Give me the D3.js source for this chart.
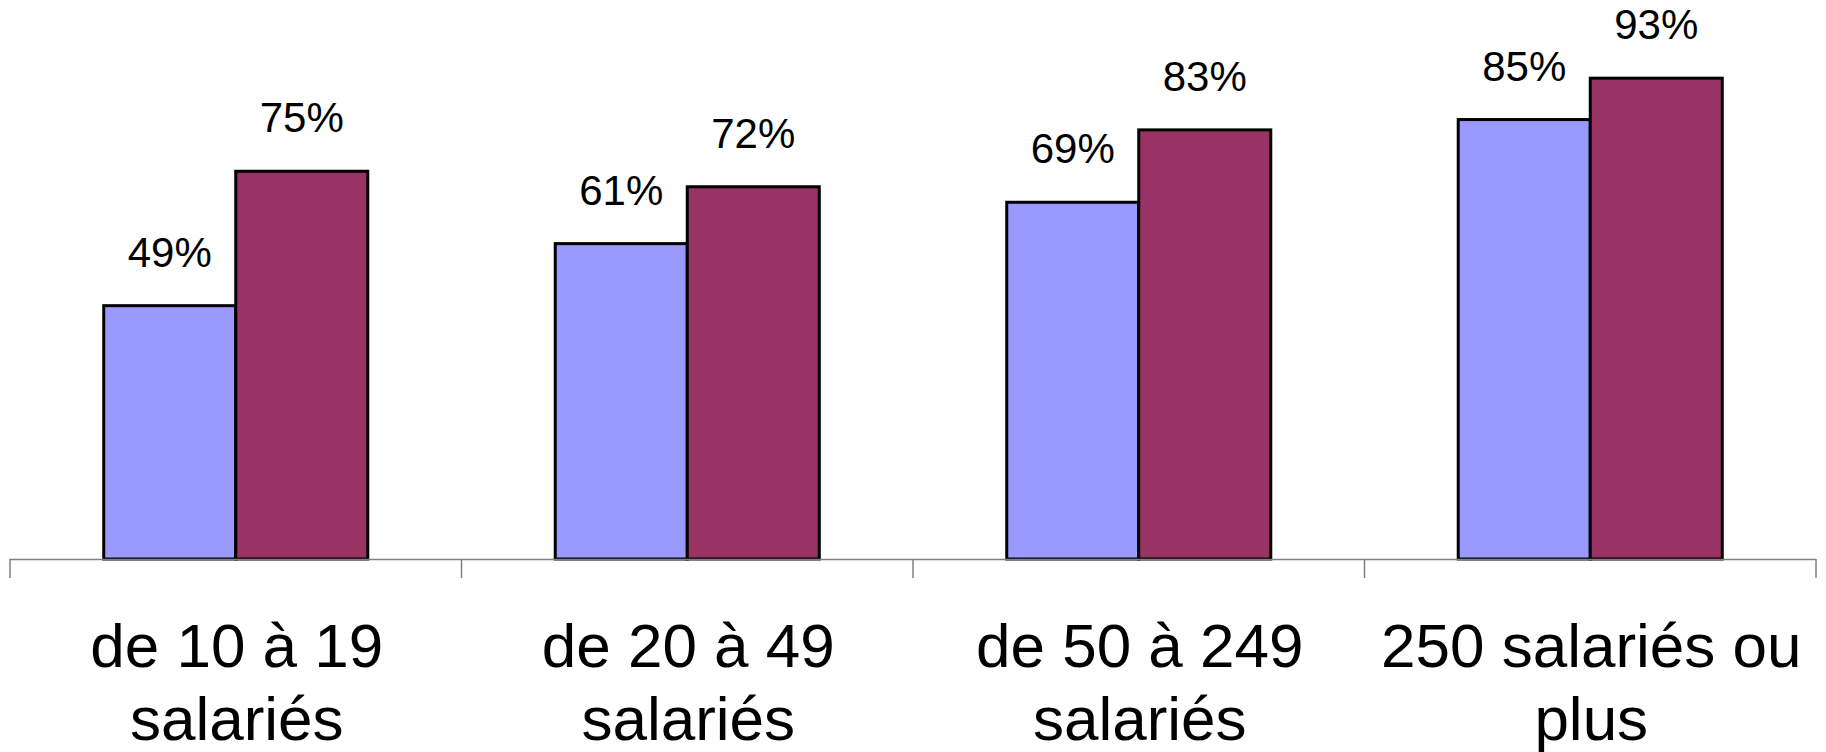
<!DOCTYPE html>
<html>
<head>
<meta charset="utf-8">
<script src="https://cdn.jsdelivr.net/npm/d3@7"></script>
<style>
  html, body { margin: 0; padding: 0; background: #fff; }
  svg { display: block; font-family: "Liberation Sans", Arial, sans-serif; }
</style>
</head>
<body>
<svg id="chart" width="1826" height="752"></svg>
<script>
const categories = [["de 10 à 19", "salariés"], ["de 20 à 49", "salariés"], ["de 50 à 249", "salariés"], ["250 salariés ou", "plus"]];
const seriesNames = ["Série 1", "Série 2"];
const series1 = [49, 61, 69, 85];
const series2 = [75, 72, 83, 93];
const colors = ["#9999FF", "#993366"];

const W = 1826, H = 752;
const left = 10, right = 1816, baseY = 559, topY = 42;

const svg = d3.select("#chart");
const keys = categories.map((c, i) => i);
const x0 = d3.scaleBand().domain(keys).range([left, right]).padding(0);
const step = x0.bandwidth();
const x1 = d3.scaleBand().domain(seriesNames).range([step * 0.2076, step * 0.7924]).padding(0);
const y = d3.scaleLinear().domain([0, 100]).range([baseY, topY]);

const data = keys.map(i => ({ i, vals: [series1[i], series2[i]] }));

const g = svg.append("g");
const groups = g.selectAll("g.grp").data(data).join("g").attr("class", "grp")
  .attr("transform", d => `translate(${x0(d.i)},0)`);

groups.selectAll("rect").data(d => d.vals.map((v, k) => ({ v, k }))).join("rect")
  .attr("x", d => x1(seriesNames[d.k]))
  .attr("y", d => y(d.v))
  .attr("width", x1.bandwidth())
  .attr("height", d => baseY - y(d.v))
  .attr("fill", d => colors[d.k])
  .attr("stroke", "#000")
  .attr("stroke-width", 3);

groups.selectAll("text.val").data(d => d.vals.map((v, k) => ({ v, k }))).join("text")
  .attr("class", "val")
  .attr("x", d => x1(seriesNames[d.k]) + x1.bandwidth() / 2)
  .attr("y", d => y(d.v) - 39)
  .attr("text-anchor", "middle")
  .attr("font-size", 42)
  .attr("fill", "#000")
  .text(d => d.v + "%");

// axis line and boundary ticks
g.append("line")
  .attr("x1", left).attr("x2", right)
  .attr("y1", baseY + 0.5).attr("y2", baseY + 0.5)
  .attr("stroke", "#808080").attr("stroke-width", 1.5);

const bounds = keys.map(i => x0(i)).concat([right]);
g.selectAll("line.tick").data(bounds).join("line")
  .attr("class", "tick")
  .attr("x1", d => d).attr("x2", d => d)
  .attr("y1", baseY).attr("y2", baseY + 19)
  .attr("stroke", "#808080").attr("stroke-width", 1.5);

// category labels
const labels = g.selectAll("text.cat").data(keys).join("text")
  .attr("class", "cat")
  .attr("text-anchor", "middle")
  .attr("font-size", 62)
  .attr("fill", "#000");
labels.selectAll("tspan").data(i => categories[i].map((t, j) => ({ t, j, i }))).join("tspan")
  .attr("x", d => x0(d.i) + step / 2 + 1)
  .attr("y", d => 667 + d.j * 73)
  .text(d => d.t);
</script>
</body>
</html>
